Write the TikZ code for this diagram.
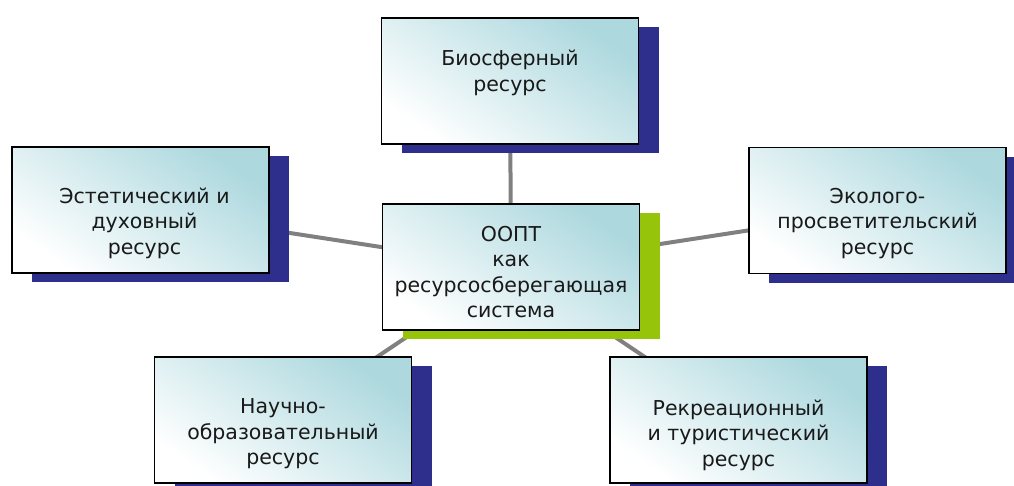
\documentclass[tikz,border=0pt]{standalone}
\usepackage{fontspec}
\setmainfont{DejaVu Sans}
\usetikzlibrary{shadows,backgrounds}
\definecolor{navyshadow}{RGB}{46,46,140}
\definecolor{greenshadow}{RGB}{150,196,10}
\definecolor{tealtint}{RGB}{172,216,222}
\definecolor{connector}{RGB}{128,128,128}
\definecolor{textcol}{RGB}{25,25,25}
\tikzset{
  boxbase/.style={draw=black, line width=1.2pt, minimum width=257pt, minimum height=126pt,
    inner sep=0pt, bottom color=white, middle color=tealtint!18!white, top color=tealtint, shading angle=-35},
  bluebox/.style={boxbase, drop shadow={fill=navyshadow, opacity=1, shadow xshift=20pt, shadow yshift=-9pt}},
  greenbox/.style={boxbase, drop shadow={fill=greenshadow, opacity=1, shadow xshift=20pt, shadow yshift=-9pt}},
  boxtext/.style={align=center, inner sep=0pt, text=textcol, font=\fontsize{20.5}{25.5}\selectfont},
  link/.style={draw=connector, line width=4pt},
}
\begin{document}
\begin{tikzpicture}[x=1pt,y=-1pt]
\useasboundingbox (0,0) rectangle (1014,485);
\node[greenbox] (c) at (511,267) {};
\node[bluebox] (t) at (510,81) {};
\node[bluebox] (l) at (140.5,210) {};
\node[bluebox] (r) at (877.5,210.5) {};
\node[bluebox] (bl) at (283,420) {};
\node[bluebox] (br) at (738.5,420) {};
\begin{scope}[on background layer]
  \draw[link] (c.center) -- (t.center);
  \draw[link] (c.center) -- (l.center);
  \draw[link] (c.center) -- (r.center);
  \draw[link] (c.center) -- (bl.center);
  \draw[link] (c.center) -- (br.center);
\end{scope}
\node[boxtext] (ct) at ([yshift=-5pt]c.center) {ООПТ\\как\\ресурсосберегающая\\система};
\node[boxtext] (tt) at ([yshift=8pt]t.center) {Биосферный\\ресурс};
\node[boxtext] (lt) at ([xshift=4pt,yshift=-13pt]l.center) {Эстетический и\\духовный\\ресурс};
\node[boxtext] (rt) at ([yshift=-13pt]r.center) {Эколого-\\просветительский\\ресурс};
\node[boxtext] (blt) at ([yshift=-14pt]bl.center) {Научно-\\образовательный\\ресурс};
\node[boxtext] (brt) at ([yshift=-15pt]br.center) {Рекреационный\\и туристический\\ресурс};
\end{tikzpicture}
\end{document}
